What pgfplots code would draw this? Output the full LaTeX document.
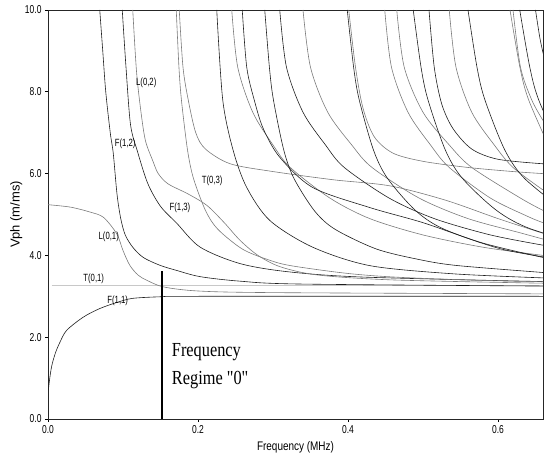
\documentclass[border=0pt]{standalone}
\usepackage{fontspec}
\setmainfont{Liberation Sans}
\newfontfamily\narrow[FakeStretch=0.74]{Liberation Sans}
\newfontfamily\xnarrow[FakeStretch=0.8]{Liberation Sans}
\newfontfamily\narrowserif[FakeStretch=0.82]{Liberation Serif}
\usepackage{pgfplots}
\pgfplotsset{compat=1.18}
\definecolor{dk}{HTML}{1E1E1E}
\definecolor{gr}{HTML}{7A7A7A}
\definecolor{lg}{HTML}{C8C8C8}
\begin{document}
\begin{tikzpicture}
\begin{axis}[
  scale only axis, width=495bp, height=409bp,
  xmin=0, xmax=0.66, ymin=0, ymax=10,
  xtick={0,0.2,0.4,0.6}, xticklabels={0.0,0.2,0.4,0.6},
  ytick={0,2,4,6,8,10}, yticklabels={0.0,2.0,4.0,6.0,8.0,10.0},
  tick align=outside, tick pos=left, major tick length=3bp,
  tick style={black, line width=0.6pt},
  ticklabel style={font=\narrow\fontsize{11.5}{12}\selectfont},
  xlabel={Frequency (MHz)}, ylabel={Vph (m/ms)},
  every axis x label/.style={at={(axis description cs:0.5,0)}, anchor=center, yshift=-28bp, font=\xnarrow\fontsize{12.5}{14}\selectfont},
  every axis y label/.style={at={(axis description cs:-0.064,0.5)}, anchor=center, rotate=90, font=\fontsize{13}{14}\selectfont},
  axis line style={line width=0.8pt, black!85},
  every axis plot/.append style={line width=0.6pt, smooth, tension=0.5, mark=none},
]
\coordinate (SW) at (rel axis cs:0,0);
\coordinate (NE) at (rel axis cs:1,1);
% F(1,1)
\addplot[dk] coordinates {(0.0005,0.7)(0.002,0.95)(0.005,1.3)(0.01,1.62)(0.016,1.88)(0.025,2.17)(0.047,2.49)(0.069,2.7)(0.092,2.85)(0.113,2.95)(0.153,2.99)(0.2,3.0)(0.66,3.0)};
% T(0,1)
\addplot[lg, line width=0.8pt] coordinates {(0.005,3.27)(0.66,3.27)};
% L(0,1)
\addplot[gr] coordinates {(0,5.24)(0.03,5.18)(0.056,5.06)(0.074,4.93)(0.0916,4.53)(0.1,4.12)(0.109,3.76)(0.12,3.52)(0.132,3.39)(0.154,3.23)(0.2,3.13)(0.3,3.09)(0.66,3.06)};
% F(1,2)
\addplot[dk] coordinates {(0.069,10)(0.073,9.0)(0.077,8.0)(0.083,7.0)(0.087,6.5)(0.092,5.5)(0.097,4.9)(0.103,4.5)(0.113,4.2)(0.127,3.95)(0.149,3.76)(0.172,3.63)(0.203,3.48)(0.256,3.37)(0.336,3.3)(0.66,3.25)};
% F(1,3)
\addplot[dk] coordinates {(0.099,10)(0.104,8.6)(0.11,7.2)(0.119,6.56)(0.133,5.76)(0.15,5.2)(0.172,4.78)(0.203,4.2)(0.256,3.8)(0.32,3.6)(0.42,3.47)(0.66,3.36)};
% L(0,2)
\addplot[gr] coordinates {(0.113,10)(0.118,8.5)(0.124,7.5)(0.13,6.8)(0.14,6.3)(0.147,6.0)(0.16,5.75)(0.187,5.5)(0.212,5.22)(0.235,4.8)(0.256,4.37)(0.28,4.0)(0.31,3.72)(0.36,3.52)(0.46,3.4)(0.66,3.32)};
% higher modes
\addplot[gr] coordinates {(0.1710,10)(0.1746,8.6)(0.1779,7.8)(0.1860,6.58)(0.1940,5.88)(0.2102,5.09)(0.2264,4.64)(0.2587,4.16)(0.2911,3.91)(0.3234,3.75)(0.4043,3.55)(0.4851,3.45)(0.6468,3.36)(0.9702,3.30)};
\addplot[gr] coordinates {(0.175,10)(0.18,8.6)(0.187,7.8)(0.197,7.0)(0.21,6.6)(0.243,6.24)(0.3,6.05)(0.38,5.85)(0.456,5.7)(0.53,5.35)(0.6,4.9)(0.66,4.54)};
\addplot[dk] coordinates {(0.225,10)(0.233,7.8)(0.247,6.56)(0.265,5.66)(0.296,4.85)(0.353,4.2)(0.429,3.75)(0.54,3.55)(0.66,3.45)};
\addplot[gr] coordinates {(0.245,10)(0.253,8.6)(0.273,7.5)(0.3,6.7)(0.323,6.15)(0.376,5.4)(0.429,4.9)(0.5,4.5)(0.58,4.2)(0.66,4.0)};
\addplot[dk] coordinates {(0.259,10)(0.265,8.6)(0.275,7.8)(0.287,7.1)(0.309,6.4)(0.353,5.66)(0.429,5.17)(0.5,4.8)(0.58,4.3)(0.66,3.95)};
\addplot[dk] coordinates {(0.2890,10)(0.2952,8.6)(0.3006,7.8)(0.3143,6.58)(0.3280,5.88)(0.3553,5.09)(0.3826,4.64)(0.4373,4.16)(0.4919,3.91)(0.5466,3.75)(0.6833,3.55)};
\addplot[dk] coordinates {(0.309,10)(0.318,8.6)(0.34,7.5)(0.37,6.7)(0.395,6.15)(0.455,5.4)(0.515,4.9)(0.59,4.5)(0.66,4.25)};
\addplot[gr] coordinates {(0.34,10)(0.35,8.6)(0.373,7.5)(0.405,6.7)(0.432,6.15)(0.495,5.4)(0.56,4.9)(0.63,4.55)(0.66,4.4)};
\addplot[dk] coordinates {(0.3990,10)(0.4075,8.6)(0.4150,7.8)(0.4339,6.58)(0.4528,5.88)(0.4905,5.09)(0.5282,4.64)(0.6037,4.16)(0.6791,3.91)};
\addplot[gr] coordinates {(0.401,10)(0.41,8.6)(0.42,7.6)(0.435,6.9)(0.46,6.5)(0.5,6.3)(0.56,6.15)(0.62,6.05)(0.66,6.0)};
\addplot[gr] coordinates {(0.449,10)(0.458,8.6)(0.48,7.5)(0.51,6.7)(0.535,6.15)(0.59,5.4)(0.64,4.95)(0.66,4.8)};
\addplot[gr] coordinates {(0.465,10)(0.475,8.6)(0.5,7.5)(0.535,6.7)(0.565,6.15)(0.63,5.4)(0.66,5.1)};
\addplot[dk] coordinates {(0.4870,10)(0.4974,8.6)(0.5067,7.8)(0.5297,6.58)(0.5527,5.88)(0.5988,5.09)(0.6448,4.64)(0.7370,4.16)};
\addplot[dk] coordinates {(0.508,10)(0.515,8.6)(0.525,7.7)(0.54,7.1)(0.565,6.6)(0.6,6.35)(0.66,6.24)};
\addplot[gr] coordinates {(0.535,10)(0.544,8.6)(0.565,7.5)(0.595,6.7)(0.62,6.15)(0.66,5.6)};
\addplot[dk] coordinates {(0.5600,10)(0.5720,8.6)(0.5826,7.8)(0.6090,6.58)(0.6355,5.88)(0.6885,5.09)};
\addplot[gr] coordinates {(0.6160,10)(0.6292,8.6)(0.6409,7.8)(0.6700,6.58)};
\addplot[gr] coordinates {(0.62,10)(0.63,8.6)(0.645,7.8)(0.66,7.3)};
\addplot[dk] coordinates {(0.6290,10)(0.6424,8.6)(0.6543,7.8)(0.6840,6.58)};
\addplot[dk] coordinates {(0.65,10)(0.656,9.3)(0.662,8.8)};
% frequency regime marker
\addplot[black, line width=2.2pt, sharp plot] coordinates {(0.152,0)(0.152,3.63)};
% labels
\begin{scope}[every node/.style={font=\narrow\fontsize{10.5}{11}\selectfont, inner sep=0pt}]
\node at (axis cs:0.081,4.46) {L(0,1)};
\node at (axis cs:0.061,3.44) {T(0,1)};
\node at (axis cs:0.093,2.9) {F(1,1)};
\node at (axis cs:0.103,6.73) {F(1,2)};
\node at (axis cs:0.131,8.22) {L(0,2)};
\node at (axis cs:0.176,5.17) {F(1,3)};
\node at (axis cs:0.219,5.83) {T(0,3)};
\end{scope}
\node[anchor=west, inner sep=0pt, font=\narrowserif\fontsize{20}{22}\selectfont] at (axis cs:0.165,1.63) {Frequency};
\node[anchor=west, inner sep=0pt, font=\narrowserif\fontsize{20}{22}\selectfont] at (axis cs:0.165,0.95) {Regime "0"};
\end{axis}
\pgfresetboundingbox
\path ([shift={(-48bp,-38bp)}]SW) rectangle ([shift={(2bp,10bp)}]NE);
\end{tikzpicture}
\end{document}
